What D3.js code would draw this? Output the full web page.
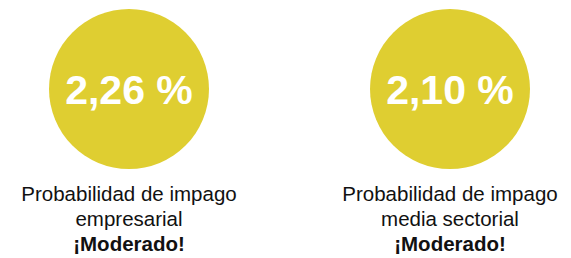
<!DOCTYPE html>
<html>
<head>
<meta charset="utf-8">
<script src="https://cdn.jsdelivr.net/npm/d3@7"></script>
<style>
  body { margin: 0; background: #fff; }
  svg { display: block; font-family: "Liberation Sans", Arial, sans-serif; }
</style>
</head>
<body>
<svg id="graph"></svg>
<script>
// values
var indicators = ["empresa", "sector"]
var probabilities = [2.26, 2.10]
var captionLines = [
    ["Probabilidad de impago", "empresarial"],
    ["Probabilidad de impago", "media sectorial"]
]
var ratings = ["¡Moderado!", "¡Moderado!"]

var screen = {width:571, height:258}

var esLocale = d3.formatLocale({decimal:",", thousands:".", grouping:[3], currency:["", " €"]})
var fmt = esLocale.format(".2f")

var svg = d3.select("#graph")
    .attr("width", screen.width)
    .attr("height", screen.height)

var xScale = d3.scalePoint()
    .domain(indicators)
    .range([129, 450])

var radius = 80
var cy = 89

var data = indicators.map(function(key, i)
{
    return {key:key, value:probabilities[i], lines:captionLines[i], rating:ratings[i]}
})

var groups = svg.selectAll("g.indicator")
    .data(data)
    .enter()
    .append("g")
    .classed("indicator", true)
    .attr("transform", function(d)
    {
        return "translate(" + xScale(d.key) + ",0)"
    })

//circle
groups.append("circle")
    .attr("cx", 0)
    .attr("cy", cy)
    .attr("r", radius)
    .attr("fill", "#DFCE31")

//big number
groups.append("text")
    .text(function(d) { return fmt(d.value) + " %" })
    .attr("text-anchor", "middle")
    .attr("x", 0)
    .attr("y", cy + 14.5)
    .attr("fill", "#fff")
    .attr("font-weight", "bold")
    .attr("font-size", "41px")

//caption
var captions = groups.append("text")
    .attr("text-anchor", "middle")
    .attr("font-size", "20.5px")
    .attr("fill", "#111")

captions.selectAll("tspan.line")
    .data(function(d) { return d.lines })
    .enter()
    .append("tspan")
    .classed("line", true)
    .attr("x", 0)
    .attr("y", function(d, i) { return 201 + i * 25 })
    .text(function(d) { return d })

captions.append("tspan")
    .attr("x", 0)
    .attr("y", 251)
    .attr("font-weight", "bold")
    .text(function(d) { return d.rating })
</script>
</body>
</html>
